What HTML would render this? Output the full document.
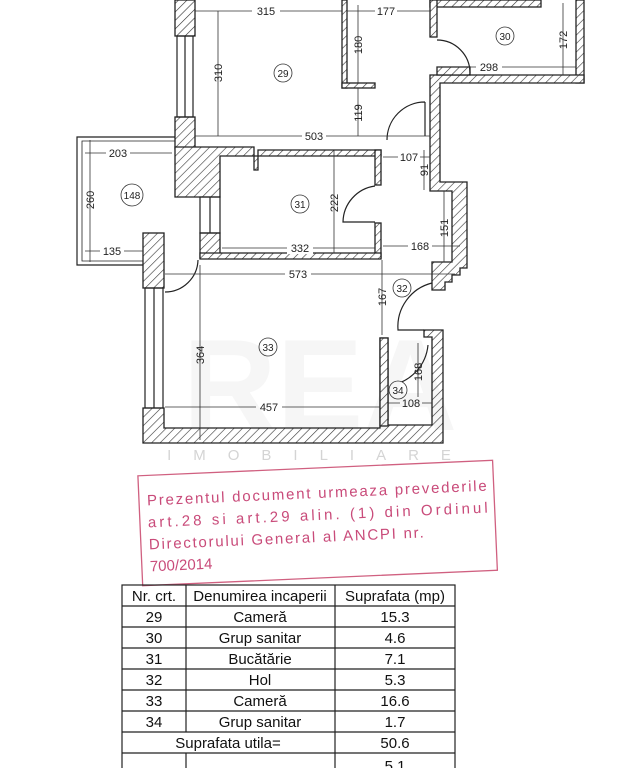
<!DOCTYPE html>
<html><head><meta charset="utf-8"><style>
html,body{margin:0;padding:0;background:#fff;width:640px;height:768px;overflow:hidden}
svg{display:block}
</style></head><body>
<svg width="640" height="768" viewBox="0 0 640 768" xmlns="http://www.w3.org/2000/svg" font-family="'Liberation Sans',sans-serif">
<defs>
<pattern id="h" width="6" height="6" patternUnits="userSpaceOnUse" patternTransform="rotate(45)">
<rect width="6" height="6" fill="#fff"/><line x1="0" y1="0" x2="0" y2="6" stroke="#333" stroke-width="1.2"/>
</pattern>
</defs>
<g stroke="#222" stroke-width="1.3" fill="url(#h)">
<rect x="175" y="0" width="20" height="36"/>
<rect x="175" y="117" width="20" height="32"/>
<path d="M175 147 H254 V170 H258 V150 H381 V156 H220 V197 H175 Z"/>
<rect x="342" y="0" width="5" height="88"/>
<rect x="342" y="83" width="33" height="5"/>
<rect x="430" y="0" width="111" height="7"/>
<rect x="430" y="0" width="7" height="37"/>
<rect x="576" y="0" width="8" height="83"/>
<path d="M430 75 H584 V83 H440 V182 H467 V268 H460 V275 H452 V282 H445 V290 H432 V262 H452 V191 H430 Z"/>
<rect x="437" y="67" width="33" height="8"/>
<rect x="375" y="150" width="6" height="35"/>
<rect x="375" y="223" width="6" height="35"/>
<rect x="200" y="233" width="20" height="25"/>
<path d="M200 253 H381 V259 H200 Z"/>
<rect x="143" y="233" width="21" height="55"/>
<path d="M143 408 H164 V428 H380 V420 H388 V338 H380 V425 H432 V337 H424 V330 H443 V443 H143 Z"/>
<rect x="380" y="338" width="8" height="88"/>
</g>
<g stroke="#222" fill="none" stroke-width="1.2">
<rect x="177" y="36" width="16" height="81"/><line x1="185" y1="36" x2="185" y2="117"/>
<rect x="200" y="197" width="20" height="36"/><line x1="210" y1="197" x2="210" y2="233"/>
<rect x="145" y="288" width="18" height="120"/><line x1="154" y1="288" x2="154" y2="408"/>
<path d="M175 137 H77 V265 H143"/><path d="M175 141 H82 V261 H143" stroke-width="0.8"/>
<path d="M437 40 A33 33 0 0 1 470 73"/>
<path d="M425 102 V136 M425 102 A38 38 0 0 0 387 140"/>
<path d="M375 186 A37 37 0 0 0 343 222 H375"/>
<path d="M198 260 A33 33 0 0 1 165 292"/>
<path d="M432 283 A45 45 0 0 0 398 330 H424"/>
<path d="M428 345 A45 45 0 0 1 392 385"/>
</g>
<g stroke="#333" stroke-width="0.8" fill="none">
<line x1="195" y1="11" x2="342" y2="11"/><line x1="347" y1="11" x2="430" y2="11"/>
<line x1="218" y1="11" x2="218" y2="136"/><line x1="358" y1="5" x2="358" y2="83"/><line x1="358" y1="88" x2="358" y2="136"/>
<line x1="195" y1="136" x2="430" y2="136"/>
<line x1="563" y1="3" x2="563" y2="75"/><line x1="437" y1="67" x2="576" y2="67"/>
<line x1="383" y1="157" x2="430" y2="157"/><line x1="424" y1="150" x2="424" y2="190"/>
<line x1="334" y1="150" x2="334" y2="253"/><line x1="444" y1="191" x2="444" y2="262"/>
<line x1="222" y1="248" x2="375" y2="248"/><line x1="383" y1="246" x2="460" y2="246"/>
<line x1="85" y1="153" x2="172" y2="153"/><line x1="90" y1="140" x2="90" y2="262"/><line x1="85" y1="251" x2="143" y2="251"/>
<line x1="165" y1="274" x2="455" y2="274"/>
<line x1="382" y1="260" x2="382" y2="335"/><line x1="200" y1="265" x2="200" y2="440"/>
<line x1="165" y1="407" x2="380" y2="407"/><line x1="388" y1="403" x2="432" y2="403"/>
<line x1="418" y1="343" x2="418" y2="402"/>
</g>
<g font-size="11" fill="#222" text-anchor="middle">
<g fill="#fff"><rect x="252" y="4" width="28" height="12"/><rect x="375" y="4" width="22" height="12"/><rect x="302" y="130" width="24" height="12"/><rect x="476" y="61" width="26" height="12"/><rect x="398" y="151" width="22" height="12"/><rect x="287" y="242" width="26" height="12"/><rect x="408" y="240" width="24" height="12"/><rect x="106" y="147" width="24" height="12"/><rect x="100" y="245" width="24" height="12"/><rect x="285" y="268" width="26" height="12"/><rect x="256" y="401" width="26" height="12"/><rect x="400" y="397" width="22" height="12"/></g>
<text x="266" y="15">315</text><text x="386" y="15">177</text><text x="314" y="140">503</text>
<text x="489" y="71">298</text><text x="409" y="161">107</text><text x="300" y="252">332</text>
<text x="420" y="250">168</text><text x="118" y="157">203</text><text x="112" y="255">135</text>
<text x="298" y="278">573</text><text x="269" y="411">457</text><text x="411" y="407">108</text>
<g><text transform="translate(222,73) rotate(-90)">310</text><text transform="translate(362,45) rotate(-90)">180</text>
<text transform="translate(362,113) rotate(-90)">119</text><text transform="translate(567,40) rotate(-90)">172</text>
<text transform="translate(428,170) rotate(-90)">91</text><text transform="translate(338,203) rotate(-90)">222</text>
<text transform="translate(448,228) rotate(-90)">151</text><text transform="translate(94,200) rotate(-90)">260</text>
<text transform="translate(386,297) rotate(-90)">167</text><text transform="translate(204,355) rotate(-90)">364</text>
<text transform="translate(422,372) rotate(-90)">168</text></g>
</g>
<g stroke="#333" fill="#fff" stroke-width="0.8">
<circle cx="283" cy="73" r="9"/><circle cx="505" cy="36" r="9"/><circle cx="300" cy="204" r="9"/>
<circle cx="402" cy="288" r="9"/><circle cx="268" cy="347" r="9"/><circle cx="398" cy="390" r="9"/><circle cx="132" cy="195" r="11"/>
</g>
<g font-size="10" fill="#222" text-anchor="middle">
<text x="283" y="77">29</text><text x="505" y="40">30</text><text x="300" y="208">31</text><text x="402" y="292">32</text>
<text x="268" y="351">33</text><text x="398" y="394">34</text><text x="132" y="199">148</text>
</g>
<text x="320" y="430" font-size="130" fill="#000" fill-opacity="0.035" text-anchor="middle" font-weight="bold">REA</text>
<text x="320" y="460" font-size="15" fill="#aaa" fill-opacity="0.5" text-anchor="middle" letter-spacing="22">IMOBILIARE</text>
<g transform="rotate(-2.5 318 520)" fill="#c94b7a">
<rect x="140" y="468" width="355" height="110" fill="none" stroke="#d06080" stroke-width="1.3"/>
<text x="148" y="498" font-size="15" textLength="340">Prezentul document urmeaza prevederile</text>
<text x="148" y="520" font-size="15" textLength="340">art.28 si art.29 alin. (1) din Ordinul</text>
<text x="148" y="542" font-size="15" textLength="275">Directorului General al ANCPI nr.</text>
<text x="148" y="564" font-size="15">700/2014</text>
</g>
<g stroke="#222" stroke-width="1.2" fill="none">
<rect x="122" y="585" width="333" height="190"/>
<line x1="122" y1="606" x2="455" y2="606"/><line x1="122" y1="627" x2="455" y2="627"/>
<line x1="122" y1="648" x2="455" y2="648"/><line x1="122" y1="669" x2="455" y2="669"/>
<line x1="122" y1="690" x2="455" y2="690"/><line x1="122" y1="711" x2="455" y2="711"/>
<line x1="122" y1="732" x2="455" y2="732"/><line x1="122" y1="753" x2="455" y2="753"/>
<line x1="186" y1="585" x2="186" y2="732"/><line x1="335" y1="585" x2="335" y2="775"/>
<line x1="186" y1="753" x2="186" y2="775"/>
</g>
<g font-size="15" fill="#111" text-anchor="middle">
<text x="154" y="601">Nr. crt.</text><text x="260" y="601">Denumirea incaperii</text><text x="395" y="601">Suprafata (mp)</text>
<text x="154" y="622">29</text><text x="260" y="622">Cameră</text><text x="395" y="622">15.3</text>
<text x="154" y="643">30</text><text x="260" y="643">Grup sanitar</text><text x="395" y="643">4.6</text>
<text x="154" y="664">31</text><text x="260" y="664">Bucătărie</text><text x="395" y="664">7.1</text>
<text x="154" y="685">32</text><text x="260" y="685">Hol</text><text x="395" y="685">5.3</text>
<text x="154" y="706">33</text><text x="260" y="706">Cameră</text><text x="395" y="706">16.6</text>
<text x="154" y="727">34</text><text x="260" y="727">Grup sanitar</text><text x="395" y="727">1.7</text>
<text x="228" y="748">Suprafata utila=</text><text x="395" y="748">50.6</text>
<text x="395" y="771">5.1</text>
</g>
</svg>
</body></html>
